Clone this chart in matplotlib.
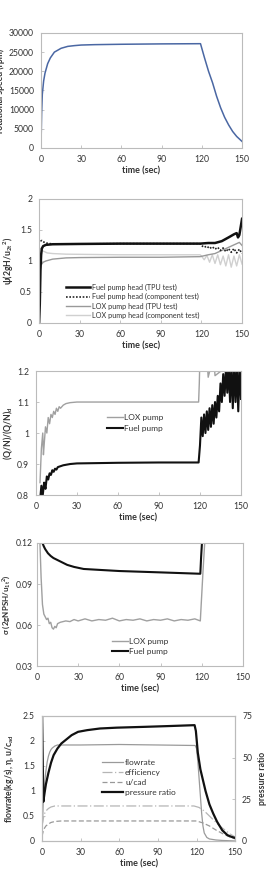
import matplotlib
matplotlib.use('Agg')
import matplotlib.pyplot as plt

plt.rcParams['font.family'] = ['Lato', 'DejaVu Sans']
plt.rcParams['mathtext.default'] = 'regular'

# --- panel 1: rotational speed ---
t_rpm = [0, 0.5, 1, 2, 3, 5, 7, 10, 15, 20, 25, 30, 40, 60, 90, 118, 119,
         122, 125, 128, 131, 134, 137, 140, 143, 146, 150]
rpm = [0, 9000, 14000, 17500, 19500, 22000, 23500, 25000, 26000, 26500,
       26700, 26850, 26950, 27050, 27150, 27200, 27200, 23500, 20000, 17000,
       13500, 10500, 8000, 6000, 4300, 3000, 1700]

# --- panel 2: head coefficient ---
t_fuel_tpu = [0, 0.5, 1, 1.5, 2, 3, 5, 10, 30, 60, 90, 119, 125, 130, 135,
              140, 144, 146, 147, 148, 149, 150]
fuel_tpu = [0, 0.3, 0.85, 1.1, 1.2, 1.24, 1.26, 1.27, 1.275, 1.28, 1.28,
            1.28, 1.29, 1.29, 1.32, 1.38, 1.43, 1.45, 1.38, 1.42, 1.55, 1.68]
t_fuel_comp = [1, 2, 3, 5, 8, 12, 30, 60, 90, 119, 120, 122, 124, 126, 128,
               130, 132, 134, 136, 138, 140, 142, 144, 146, 148, 150]
fuel_comp = [1.32, 1.33, 1.31, 1.29, 1.28, 1.275, 1.275, 1.28, 1.28, 1.28,
             1.25, 1.22, 1.24, 1.2, 1.23, 1.19, 1.22, 1.17, 1.21, 1.15, 1.2,
             1.14, 1.2, 1.13, 1.19, 1.12]
t_lox_tpu = [1, 2, 3, 5, 10, 20, 30, 60, 90, 119, 125, 130, 135, 140, 145,
             148, 150]
lox_tpu = [1.1, 0.95, 0.98, 1.0, 1.03, 1.05, 1.055, 1.06, 1.06, 1.07, 1.1,
           1.12, 1.17, 1.22, 1.27, 1.3, 1.25]
t_lox_comp = [1, 2, 4, 6, 10, 20, 60, 90, 119, 120, 122, 124, 126, 128, 130,
              132, 134, 136, 138, 140, 142, 144, 146, 148, 150]
lox_comp = [1.2, 1.17, 1.15, 1.13, 1.12, 1.11, 1.1, 1.1, 1.1, 1.08, 1.02,
            1.09, 0.98, 1.1, 0.96, 1.1, 0.94, 1.08, 0.92, 1.1, 0.9, 1.08,
            0.92, 1.1, 0.95]

# --- panel 3: flow coefficient ---
t_q_lox = [3, 4, 5, 5.5, 6, 7, 8, 9, 10, 11, 12, 13, 14, 15, 16, 17, 18, 20,
           22, 25, 30, 60, 90, 119, 119.5, 120, 125, 126, 130, 131, 150]
q_lox = [0.84, 0.95, 1.0, 0.93, 0.96, 1.02, 1.0, 1.05, 1.03, 1.06, 1.05,
         1.07, 1.06, 1.08, 1.07, 1.085, 1.08, 1.09, 1.095, 1.098, 1.1, 1.1,
         1.1, 1.1, 1.16, 1.25, 1.25, 1.18, 1.25, 1.185, 1.25]
t_q_fuel = [3, 4, 5, 6, 7, 8, 9, 10, 11, 12, 13, 14, 15, 16, 18, 20, 25, 30,
            60, 90, 119, 120, 121, 122, 123, 124, 125, 126, 127, 128, 129,
            130, 131, 132, 133, 134, 135, 136, 137, 138, 139, 140, 141, 142,
            143, 144, 145, 146, 147, 148, 149, 150]
q_fuel = [0.78, 0.83, 0.8, 0.84, 0.82, 0.86, 0.85, 0.87, 0.865, 0.88, 0.875,
          0.885, 0.882, 0.89, 0.893, 0.896, 0.9, 0.902, 0.904, 0.905, 0.905,
          0.96, 1.05, 0.99, 1.06, 1.0, 1.07, 1.01, 1.08, 1.02, 1.09, 1.03,
          1.1, 1.05, 1.12, 1.07, 1.16, 1.1, 1.19, 1.12, 1.21, 1.13, 1.22,
          1.1, 1.22, 1.08, 1.22, 1.1, 1.22, 1.07, 1.22, 1.11]

# --- panel 4: cavitation number ---
t_s_fuel = [4, 5, 6, 8, 10, 12, 15, 18, 22, 27, 34, 46, 60, 90, 119, 119.6,
            120.5]
s_fuel = [0.12, 0.1175, 0.1155, 0.1125, 0.1105, 0.109, 0.1075, 0.106, 0.104,
          0.1025, 0.101, 0.1003, 0.0995, 0.0985, 0.0975, 0.11, 0.125]
t_s_lox = [2, 3, 4, 5, 6, 7, 8, 9, 10, 11, 12, 13, 14, 15, 17, 19, 21, 24, 27,
           30, 35, 40, 45, 50, 55, 60, 65, 70, 75, 80, 85, 90, 95, 100, 105,
           110, 115, 119, 121, 122.5]
s_lox = [0.125, 0.095, 0.075, 0.068, 0.066, 0.064, 0.065, 0.061, 0.062, 0.058,
         0.057, 0.059, 0.058, 0.061, 0.062, 0.0625, 0.063, 0.0625, 0.064,
         0.063, 0.0645, 0.063, 0.064, 0.0635, 0.065, 0.063, 0.064, 0.0635,
         0.0645, 0.063, 0.064, 0.0635, 0.0645, 0.063, 0.064, 0.0635, 0.0645,
         0.063, 0.1, 0.125]

# --- panel 5: turbine ---
t_flow = [0, 0.5, 1, 2, 3, 4, 5, 6, 7, 8, 10, 12, 15, 30, 60, 90, 119, 120,
          121, 122, 123, 124, 125, 126, 128, 130, 135, 140, 150]
flowrate = [0.2, 0.45, 0.8, 1.15, 1.4, 1.58, 1.7, 1.78, 1.83, 1.86, 1.9, 1.92,
            1.92, 1.92, 1.93, 1.92, 1.91, 1.85, 1.6, 1.25, 0.9, 0.55, 0.3,
            0.16, 0.07, 0.04, 0.02, 0.01, 0.0]
t_eff = [0, 1, 2, 3, 5, 7, 10, 15, 30, 60, 90, 118, 122, 126, 130, 134, 138,
         142, 146, 150]
efficiency = [0.3, 0.45, 0.55, 0.6, 0.65, 0.68, 0.7, 0.7, 0.7, 0.7, 0.7, 0.7,
              0.67, 0.6, 0.5, 0.4, 0.3, 0.22, 0.14, 0.08]
t_ucad = [0, 1, 2, 3, 5, 7, 10, 15, 30, 60, 90, 120, 125, 130, 135, 140, 145,
          150]
ucad = [0.1, 0.2, 0.26, 0.3, 0.34, 0.37, 0.39, 0.4, 0.4, 0.4, 0.4, 0.4, 0.36,
        0.3, 0.22, 0.15, 0.09, 0.04]
t_pr = [0, 0.05, 1, 2, 3, 5, 7, 9, 12, 15, 19, 23, 28, 35, 45, 58, 80, 100,
        118.5, 119.5, 121, 123, 125, 127, 130, 133, 136, 140, 144, 147, 150]
pressure_ratio = [75, 75, 23.5, 29, 34, 41, 47, 51.5, 55.5, 58.5, 61, 63.5,
                  65.5, 66.5, 67.5, 68, 68.5, 69, 69.5, 66, 53, 43, 36.5, 30,
                  22, 16.4, 11.5, 6.4, 3.5, 2.5, 1.8]

time_ticks = [0, 30, 60, 90, 120, 150]
FS = 6.2
LFS = 6.2
EDGE = '#bbbbbb'
TXT = '#333333'


def style(ax, yticks):
    for s in ax.spines.values():
        s.set_color(EDGE)
        s.set_linewidth(0.8)
    ax.set_xlim(0, 150)
    ax.set_xticks(time_ticks)
    ax.set_yticks(yticks)
    ax.set_ylim(yticks[0], yticks[-1])
    ax.tick_params(labelsize=FS, colors=EDGE, labelcolor=TXT, length=2,
                   direction='in', width=0.6, pad=5)
    ax.set_xlabel('time (sec)', fontsize=6.5, fontweight='bold', color=TXT,
                  labelpad=2)


fig = plt.figure(figsize=(2.66, 8.72), dpi=100)

# panel 1
ax1 = fig.add_axes([0.154, 0.8303, 0.756, 0.1319])
ax1.plot(t_rpm, rpm, color='#4a67a3', lw=1.1)
style(ax1, [0, 5000, 10000, 15000, 20000, 25000, 30000])
ax1.set_ylabel('rotational speed (rpm)', fontsize=LFS, fontweight='bold',
               color=TXT)
ax1.yaxis.set_label_coords(-0.18, 0.5)

# panel 2
ax2 = fig.add_axes([0.147, 0.6296, 0.763, 0.1422])
ax2.plot(t_lox_comp, lox_comp, color='#d0d0d0', lw=1.0,
         label='LOX pump head (component test)')
ax2.plot(t_lox_tpu, lox_tpu, color='#999999', lw=1.0,
         label='LOX pump head (TPU test)')
ax2.plot(t_fuel_comp, fuel_comp, color='#222222', lw=1.2, ls=(0, (1, 1)),
         label='Fuel pump head (component test)')
ax2.plot(t_fuel_tpu, fuel_tpu, color='#111111', lw=1.8,
         label='Fuel pump head (TPU test)')
style(ax2, [0, 0.5, 1, 1.5, 2])
ax2.set_yticklabels(['0', '0.5', '1', '1.5', '2'])
ax2.set_ylabel(r'ψ(2gH/u$_{2t}$$^{2}$)', fontsize=LFS, fontweight='bold',
               color=TXT)
ax2.yaxis.set_label_coords(-0.115, 0.5)
h, l = ax2.get_legend_handles_labels()
ax2.legend(h[::-1], l[::-1], loc='lower left', bbox_to_anchor=(0.1, -0.02),
           frameon=False, fontsize=5.2, handlelength=3.3, handletextpad=0.3,
           labelspacing=0.3, labelcolor=TXT)

# panel 3
ax3 = fig.add_axes([0.135, 0.4323, 0.771, 0.1422])
ax3.plot(t_q_lox, q_lox, color='#a0a0a0', lw=1.0, label='LOX pump')
ax3.plot(t_q_fuel, q_fuel, color='#111111', lw=1.5, label='Fuel pump')
style(ax3, [0.8, 0.9, 1.0, 1.1, 1.2])
ax3.set_yticklabels(['0.8', '0.9', '1', '1.1', '1.2'])
ax3.set_ylabel(r'(Q/N)/(Q/N)$_{d}$', fontsize=LFS, fontweight='bold',
               color=TXT)
ax3.yaxis.set_label_coords(-0.1, 0.5)
ax3.legend(loc='lower left', bbox_to_anchor=(0.31, 0.45), frameon=False,
           fontsize=6, handlelength=1.9, handletextpad=0.1,
           labelspacing=0.4, labelcolor=TXT)

# panel 4
ax4 = fig.add_axes([0.139, 0.2362, 0.774, 0.1411])
ax4.plot(t_s_lox, s_lox, color='#a0a0a0', lw=1.0, label='LOX pump')
ax4.plot(t_s_fuel, s_fuel, color='#111111', lw=1.5, label='Fuel pump')
style(ax4, [0.03, 0.06, 0.09, 0.12])
ax4.tick_params(axis='y', pad=3)
ax4.set_ylabel(r'σ (2gNPSH/u$_{1t}$$^{2}$)', fontsize=5.8, fontweight='bold',
               color=TXT)
ax4.yaxis.set_label_coords(-0.12, 0.5)
ax4.legend(loc='lower left', bbox_to_anchor=(0.33, 0.03), frameon=False,
           fontsize=6, handlelength=1.9, handletextpad=0.1,
           labelspacing=0.4, labelcolor=TXT)

# panel 5
ax5 = fig.add_axes([0.158, 0.0356, 0.726, 0.1433])
l1, = ax5.plot(t_flow, flowrate, color='#9a9a9a', lw=0.9, label='flowrate')
l2, = ax5.plot(t_eff, efficiency, color='#b5b5b5', lw=0.9,
               ls=(0, (8, 2, 1, 2)), label='efficiency')
l3, = ax5.plot(t_ucad, ucad, color='#999999', lw=0.9, ls=(0, (4, 2)),
               label='u/cad')
style(ax5, [0, 0.5, 1, 1.5, 2, 2.5])
ax5.set_yticklabels(['0', '0.5', '1', '1.5', '2', '2.5'])
ax5.set_ylabel(r'flowrate(kg/s), η, u/c$_{ad}$', fontsize=LFS,
               fontweight='bold', color=TXT)
ax5.yaxis.set_label_coords(-0.135, 0.5)
ax5r = ax5.twinx()
l4, = ax5r.plot(t_pr, pressure_ratio, color='#111111', lw=1.6,
                label='pressure ratio')
ax5r.set_ylim(0, 75)
ax5r.set_yticks([0, 25, 50, 75])
for s in ax5r.spines.values():
    s.set_color(EDGE)
    s.set_linewidth(0.8)
ax5r.tick_params(labelsize=FS, colors=EDGE, labelcolor=TXT, length=2,
                 direction='in', width=0.6, pad=5)
ax5r.set_ylabel('pressure ratio', fontsize=LFS, fontweight='bold',
                color=TXT, rotation=90)
ax5r.yaxis.set_label_coords(1.12, 0.5)
ax5.legend([l1, l2, l3, l4], ['flowrate', 'efficiency', 'u/cad',
                              'pressure ratio'],
           loc='lower left', bbox_to_anchor=(0.27, 0.3), frameon=False,
           fontsize=6, handlelength=2.6, handletextpad=0.2,
           labelspacing=0.35, labelcolor=TXT)

fig.savefig('out.png', dpi=100, facecolor='white')
